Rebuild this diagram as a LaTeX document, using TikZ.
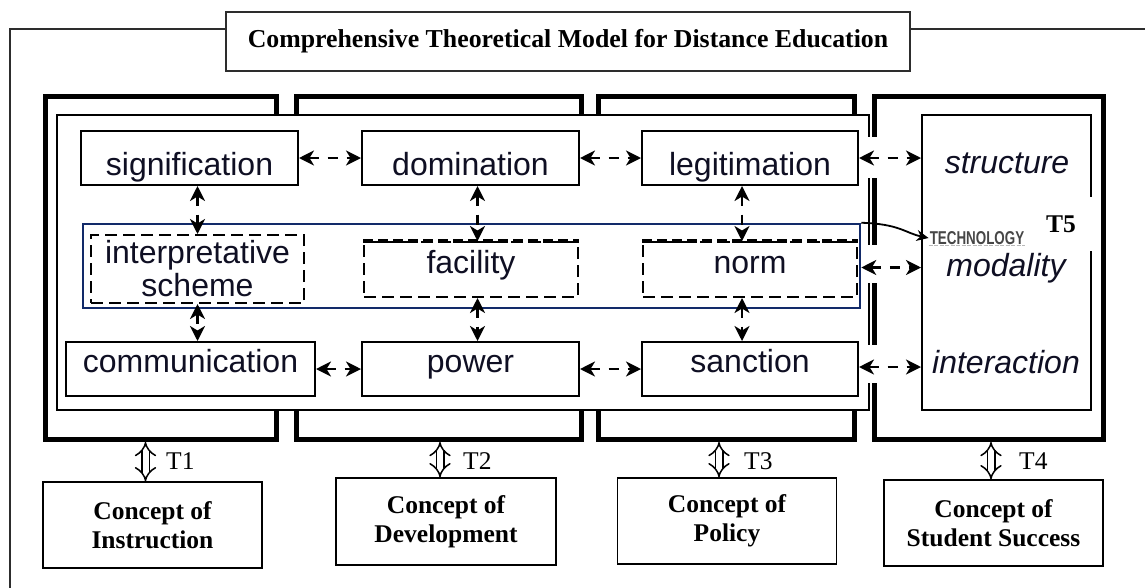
\documentclass[tikz,border=0pt]{standalone}
\usepackage{fontspec}
\setmainfont{Liberation Serif}
\setsansfont{Liberation Sans}
\usepackage{graphicx}
\usetikzlibrary{arrows.meta}
\definecolor{navy}{RGB}{18,42,105}
\definecolor{ink}{RGB}{15,15,35}
\definecolor{framegray}{RGB}{45,45,45}
\definecolor{techgray}{RGB}{70,70,70}
\begin{document}
\begin{tikzpicture}[x=1pt,y=-1pt,
  frame/.style={draw=framegray, line width=1.5pt},
  col/.style={draw=black, line width=5pt, inner sep=0pt, minimum height=343pt},
  panel/.style={draw=black, line width=2pt, fill=white, inner sep=0pt, minimum height=295pt},
  sbox/.style={draw=black, line width=2pt, fill=white, inner sep=0pt, minimum height=54pt, font=\sffamily\fontsize{32}{33}\selectfont, text=ink},
  toprow/.style={text height=44pt, text depth=10pt},
  botrow/.style={text height=30pt, text depth=24pt},
  dbox/.style={draw=black, line width=2pt, dash pattern=on 12pt off 6pt, inner sep=0pt, font=\sffamily\fontsize{32}{33}\selectfont, text=ink, align=center},
  heavytop/.style={line width=4.5pt, dash pattern=on 10pt off 5pt},
  itxt/.style={font=\sffamily\itshape\fontsize{32}{33}\selectfont, text=ink, inner sep=0pt, anchor=base},
  darr/.style={line width=2.5pt, dash pattern=on 10pt off 9pt, {Stealth[length=15pt,width=15pt,inset=4.5pt]}-{Stealth[length=15pt,width=15pt,inset=4.5pt]}},
  cbox/.style={draw=black, line width=1.5pt, inner sep=0pt, align=center, font=\bfseries\fontsize{25.5}{29}\selectfont},
  tarr/.style={double, double distance=6pt, line width=1.5pt, {Implies}-{Implies}},
  tlab/.style={font=\fontsize{25.5}{29}\selectfont, inner sep=0pt, anchor=west},
  patch/.style={fill=white},
]
\useasboundingbox (0,0) rectangle (1145,587);

% outer frame and title
\node[draw=framegray, line width=1.5pt, minimum width=684pt, minimum height=59pt, inner sep=0pt,
      font=\bfseries\fontsize{25.8}{29}\selectfont] (title) at (568,41.5)
      {Comprehensive Theoretical Model for Distance Education};
\coordinate (fb) at (10,590);
\coordinate (fl) at (10,29);
\coordinate (fr) at (1150,29);
\draw[frame] (fb) -- (fl) -- (fl -| title.west);
\draw[frame] (title.east |- fr) -- (fr);

% thick column frames
\node[col, minimum width=231pt]   (col1) at (161,268) {};
\node[col, minimum width=285pt]   (col2) at (438.5,268) {};
\node[col, minimum width=256pt]   (col3) at (726.5,268) {};
\node[col, minimum width=228.5pt] (col4) at (988.75,268) {};

% inner panels
\node[panel, minimum width=812pt] (panel) at (463,262.5) {};
\node[panel, minimum width=169pt] (in4) at (1006.5,262.5) {};

% blue frame
\node[draw=navy, line width=2.5pt, minimum width=777pt, minimum height=84pt, inner sep=0pt] (blue) at (471.5,266) {};

% boxes
\node[sbox, toprow, minimum width=217pt] (sig) at (189.5,158) {signification};
\node[sbox, toprow, minimum width=217pt] (dom) at (470.5,158) {domination};
\node[sbox, toprow, minimum width=216pt] (leg) at (750,158) {legitimation};
\node[sbox, botrow, minimum width=249pt] (comm) at (190.5,369) {communication};
\node[sbox, botrow, minimum width=217pt] (power) at (470.5,369) {power};
\node[sbox, botrow, minimum width=216pt] (sanc) at (750,369) {sanction};

\node[dbox, minimum width=213pt, minimum height=68pt] (interp) at (197.5,269) {interpretative\\scheme};
\node[dbox, minimum width=214pt, minimum height=55pt, text height=31pt, text depth=24pt] (fac) at (471,269.5) {facility};
\node[dbox, minimum width=214pt, minimum height=55pt, text height=31pt, text depth=24pt] (norm) at (750,269.5) {norm};
\draw[heavytop] (fac.north west) -- (fac.north east);
\draw[heavytop] (norm.north west) -- (norm.north east);

% right column texts
\node[itxt] (structure) at (1007,173) {structure};
\node[itxt] (modality) at (1006,276) {modality};
\node[itxt] (interaction) at (1006,373) {interaction};

% white gaps behind right-hand arrows
\fill[patch] (861,137) rectangle (918,178);
\fill[patch] (863,245) rectangle (918,283);
\fill[patch] (861,345) rectangle (918,383);

% horizontal arrows
\draw[darr] (sig) -- (dom);
\draw[darr] (dom) -- (leg);
\draw[darr] (leg.east) -- (leg.east -| in4.west);
\draw[darr] (comm) -- (power);
\draw[darr] (power) -- (sanc);
\draw[darr] ([yshift=2pt]sanc.east) -- ([yshift=2pt]sanc.east -| in4.west);
\draw[darr] ([yshift=2pt]blue.east |- norm.east) -- ([yshift=2pt]in4.west |- norm.east);

% vertical arrows
\draw[darr] (interp.north |- sig.south) -- (interp.north);
\draw[darr] ([xshift=7pt]dom.south) -- ([xshift=7pt]dom.south |- fac.north);
\draw[darr] ([xshift=-8pt]leg.south) -- ([xshift=-8pt]leg.south |- norm.north);
\draw[darr] (interp.south) -- (interp.south |- comm.north);
\draw[darr] ([xshift=7pt]power.north |- fac.south) -- ([xshift=7pt]power.north);
\draw[darr] ([xshift=-8pt]sanc.north |- norm.south) -- ([xshift=-8pt]sanc.north);

% technology
\node[font=\sffamily\bfseries\fontsize{18.6}{20}\selectfont, text=techgray, inner sep=1pt] (tech) at (977,238) {\scalebox{0.72}[1]{TECHNOLOGY}};
\draw[gray!55, line width=1pt, dash pattern=on 4pt off 1.5pt] (tech.south west) -- (tech.south east);
\draw[line width=1.8pt, -{Stealth[length=12pt,width=11pt]}] (blue.north east) .. controls (900,224) and (905,233) .. (tech.west);
\node[font=\bfseries\fontsize{25.5}{29}\selectfont, fill=white, minimum width=62pt, minimum height=54pt, inner sep=0pt] (t5) at (1061,224) {T5};

% concept boxes
\node[cbox, minimum width=219pt, minimum height=86pt] (cb1) at (152.5,525) {Concept of\\Instruction};
\node[cbox, minimum width=220pt, minimum height=87pt] (cb2) at (446,521.5) {Concept of\\Development};
\node[cbox, minimum width=219pt, minimum height=86pt] (cb3) at (727,521) {Concept of\\Policy};
\node[cbox, minimum width=219pt, minimum height=86pt] (cb4) at (993.5,523) {Concept of\\Student Success};

% T arrows
\draw[tarr] ([xshift=-7pt]cb1.north |- col1.south) -- ([xshift=-7pt]cb1.north);
\draw[tarr] ([xshift=-6pt]cb2.north |- col2.south) -- ([xshift=-6pt]cb2.north);
\draw[tarr] ([xshift=-8pt]cb3.north |- col3.south) -- ([xshift=-8pt]cb3.north);
\draw[tarr] ([xshift=-2.5pt]cb4.north |- col4.south) -- ([xshift=-2.5pt]cb4.north);
\node[tlab] (t1) at (166,461) {T1};
\node[tlab] (t2) at (463,461) {T2};
\node[tlab] (t3) at (744,461) {T3};
\node[tlab] (t4) at (1019,461) {T4};
\end{tikzpicture}
\end{document}
